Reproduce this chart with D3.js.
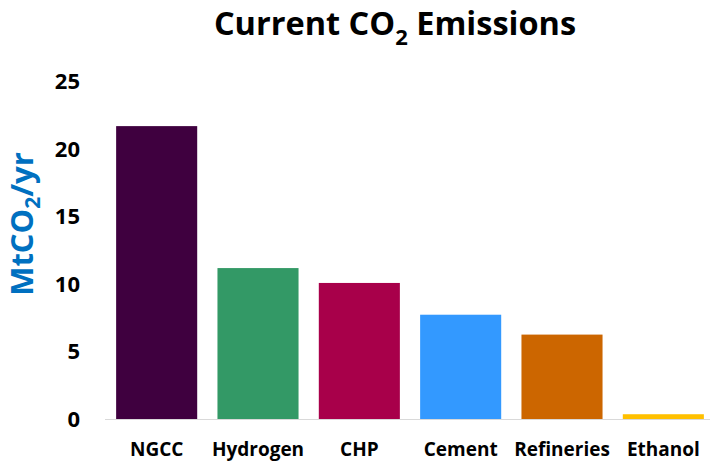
<!DOCTYPE html>
<html>
<head>
<meta charset="utf-8">
<script src="https://cdn.jsdelivr.net/npm/d3@7"></script>
<style>
  html, body { margin: 0; padding: 0; background: #fff; }
  svg { display: block; font-family: "Open Sans", Lato, sans-serif; }
</style>
</head>
<body>
<svg id="chart" width="710" height="462"></svg>
<script>
// Annual CO2 emissions by source sector (MtCO2/yr)
const categories = ["NGCC", "Hydrogen", "CHP", "Cement", "Refineries", "Ethanol"];
const emissions = [21.7, 11.2, 10.1, 7.75, 6.28, 0.39];
const barColors = ["#3F003F", "#339966", "#A8004A", "#3399FF", "#CC6600", "#FFC000"];
const yTicks = [0, 5, 10, 15, 20, 25];

const svg = d3.select("#chart");

const x = d3.scaleBand()
  .domain(categories)
  .range([106, 714])
  .paddingInner(0.2)
  .paddingOuter(0.1);

const y = d3.scaleLinear()
  .domain([0, 25])
  .range([419.5, 81.5]);

// Bars
svg.append("g")
  .selectAll("rect")
  .data(categories.map((c, i) => ({ cat: c, value: emissions[i], color: barColors[i] })))
  .join("rect")
  .attr("x", d => x(d.cat))
  .attr("y", d => y(d.value))
  .attr("width", x.bandwidth())
  .attr("height", d => y(0) - y(d.value))
  .attr("fill", d => d.color);

// Category axis along the baseline
const xAxis = svg.append("g")
  .attr("transform", `translate(0,${y(0)})`)
  .call(d3.axisBottom(x).tickSize(0).tickPadding(0));
xAxis.select(".domain")
  .attr("d", `M105,0H710`)
  .attr("stroke", "#D9D9D9")
  .attr("stroke-width", 1.2);
xAxis.selectAll("text")
  .attr("y", 36)
  .attr("dy", 0)
  .attr("fill", "#000")
  .style("font-family", "'Open Sans', sans-serif")
  .style("font-weight", "bold")
  .style("font-size", "19px");

// Value axis labels
const yAxis = svg.append("g")
  .attr("transform", "translate(106,0)")
  .call(d3.axisLeft(y).tickValues(yTicks).tickSize(0).tickPadding(26));
yAxis.select(".domain").remove();
yAxis.selectAll("text")
  .attr("fill", "#000")
  .style("font-family", "'Open Sans', sans-serif")
  .style("font-weight", "bold")
  .style("font-size", "22px");

// Chart title with subscript
const title = svg.append("text")
  .attr("x", 395)
  .attr("y", 35)
  .attr("text-anchor", "middle")
  .style("font-weight", "bold")
  .style("font-size", "32.5px")
  .attr("fill", "#000");
title.append("tspan").text("Current CO");
title.append("tspan").attr("dy", 10).style("font-size", "22px").text("2");
title.append("tspan").attr("dy", -10).text(" Emissions");

// Y-axis title
const yTitle = svg.append("text")
  .attr("transform", "translate(32.5,224) rotate(-90)")
  .attr("text-anchor", "middle")
  .style("font-weight", "bold")
  .style("font-size", "31px")
  .attr("fill", "#0070C0");
yTitle.append("tspan").text("MtCO");
yTitle.append("tspan").attr("dy", 7).style("font-size", "21px").text("2");
yTitle.append("tspan").attr("dy", -7).text("/yr");
</script>
</body>
</html>
